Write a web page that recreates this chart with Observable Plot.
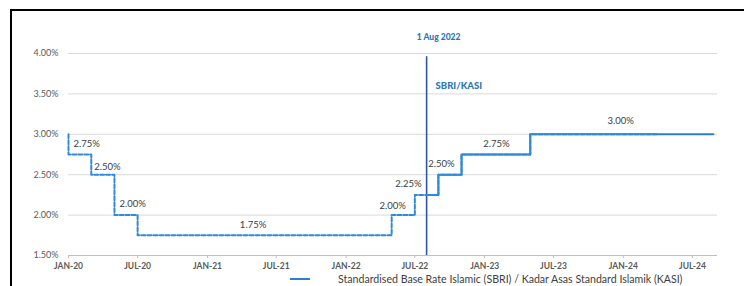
<!DOCTYPE html>
<html>
<head>
<meta charset="utf-8">
<script src="https://cdn.jsdelivr.net/npm/d3@7"></script>
<script src="https://cdn.jsdelivr.net/npm/@observablehq/plot@0.6"></script>
<style>
  html, body { margin: 0; padding: 0; background: #fff; }
  body { width: 744px; height: 286px; overflow: hidden; position: relative; font-family: Lato, "Liberation Sans", sans-serif; }
  #frame { position: absolute; left: 10px; top: 9px; width: 800px; height: 300px; border-left: 2px solid #000; border-top: 2px solid #000; }
  #chart { position: absolute; left: 0; top: 0; }
  #legend { position: absolute; left: 0; top: 272px; width: 744px; height: 14px; font-size: 10.6px; color: #404040; }
  #legend .sw { position: absolute; left: 290px; top: 6px; width: 20px; height: 2px; background: #2c7fd0; }
  #legend .lb { position: absolute; left: 338px; top: 0px; line-height: 14px; white-space: nowrap; }
</style>
</head>
<body>
<div id="frame"></div>
<div id="chart"></div>
<div id="legend"><div class="sw"></div><div class="lb" id="legendText"></div></div>
<script>
// ---- data ----
const oprDates  = ["2020-01-01","2020-01-01","2020-03-01","2020-05-01","2020-07-01","2022-05-01","2022-07-01","2022-09-01","2022-11-01","2023-05-01","2024-04-01"];
const oprValues = [3.00, 2.75, 2.50, 2.00, 1.75, 2.00, 2.25, 2.50, 2.75, 3.00, 3.00];

const sbriDates  = ["2022-08-01","2022-09-01","2022-11-01","2023-05-01","2024-08-25"];
const sbriValues = [2.25, 2.50, 2.75, 3.00, 3.00];

const labelDates  = ["2020-01-01","2020-03-01","2020-05-01","2021-05-01","2022-07-01","2022-08-01","2022-09-01","2023-02-01","2023-12-25"];
const labelValues = [2.75, 2.50, 2.00, 1.75, 2.00, 2.25, 2.50, 2.75, 3.00];
const labelTexts  = ["2.75%","2.50%","2.00%","1.75%","2.00%","2.25%","2.50%","2.75%","3.00%"];

const markerDate = "2022-08-01";
const markerDateLabel = "1 Aug 2022";
const markerLabel = "SBRI/KASI";

const yTicks = [1.5, 2.0, 2.5, 3.0, 3.5, 4.0];
const xTicks = ["2020-01-01","2020-07-01","2021-01-01","2021-07-01","2022-01-01","2022-07-01","2023-01-01","2023-07-01","2024-01-01","2024-07-01"];
const xDomain = ["2020-01-01","2024-09-05"];
const yDomain = [1.5, 4.0];

const legendLabel = "Standardised Base Rate Islamic (SBRI) / Kadar Asas Standard Islamik (KASI)";

// ---- build ----
const P = d3.utcParse("%Y-%m-%d");
const opr  = oprDates.map((d, i) => ({date: P(d), value: oprValues[i]}));
const sbri = sbriDates.map((d, i) => ({date: P(d), value: sbriValues[i]}));
const labels = labelDates.map((d, i) => ({date: P(d), value: labelValues[i], text: labelTexts[i]}));
// label style: anchor, dx, dy
const labelStyle = [
  ["start", 5, -11], ["start", 3, -8], ["start", 5, -11], ["middle", 0, -10],
  ["end", -9, -9], ["end", -5, -11], ["middle", 3, -11], ["middle", 0, -11], ["middle", 0, -13]
];
const fmtX = d => d3.utcFormat("%b-%y")(d).toUpperCase();
const gray = "#595959";

const plot = Plot.plot({
  width: 744,
  height: 272,
  marginTop: 53,
  marginBottom: 17,
  marginLeft: 68,
  marginRight: 27,
  style: {fontFamily: "Lato, 'Liberation Sans', sans-serif", background: "transparent", overflow: "visible"},
  x: {type: "utc", domain: xDomain.map(P)},
  y: {domain: yDomain},
  marks: [
    Plot.gridY(yTicks.slice(1), {stroke: "#d9d9d9", strokeOpacity: 1, strokeWidth: 1}),
    Plot.ruleY([yTicks[0]], {stroke: "#bfbfbf", strokeWidth: 1}),
    Plot.axisY(yTicks, {tickSize: 0, tickPadding: 10, tickFormat: d => d.toFixed(2) + "%", fontSize: 9, fill: gray, label: null}),
    Plot.axisX(xTicks.map(P), {tickSize: 3, stroke: "#bfbfbf", tickPadding: 4, tickFormat: fmtX, fontSize: 8.5, fontWeight: "bold", fill: gray, label: null, style: {letterSpacing: "0.6px"}}),
    Plot.ruleX([P(markerDate)], {y1: yDomain[0], y2: 3.96, stroke: "#2f55a4", strokeWidth: 1.6}),
    Plot.line(sbri, {x: "date", y: "value", curve: "step-after", stroke: "#2c7fd0", strokeWidth: 2}),
    Plot.line(opr, {x: "date", y: "value", curve: "step-after", stroke: "#2e8bdc", strokeWidth: 2, strokeDasharray: "4,2"}),
    ...labels.map((l, i) => Plot.text([l], {x: "date", y: "value", text: "text", textAnchor: labelStyle[i][0], dx: labelStyle[i][1], dy: labelStyle[i][2], fontSize: 9.5, fill: "#404040"})),
    Plot.text([markerDateLabel], {x: () => P(markerDate), frameAnchor: "top", dy: -20, dx: 12, text: d => d, fontSize: 8.5, fontWeight: 900, fill: "#2e75b6"}),
    Plot.text([markerLabel], {x: () => P(markerDate), frameAnchor: "top", dy: 29, dx: 9, textAnchor: "start", text: d => d, fontSize: 9.5, fontWeight: 900, fill: "#2e75b6"})
  ]
});
document.getElementById("chart").appendChild(plot);
document.getElementById("legendText").textContent = legendLabel;
</script>
</body>
</html>
